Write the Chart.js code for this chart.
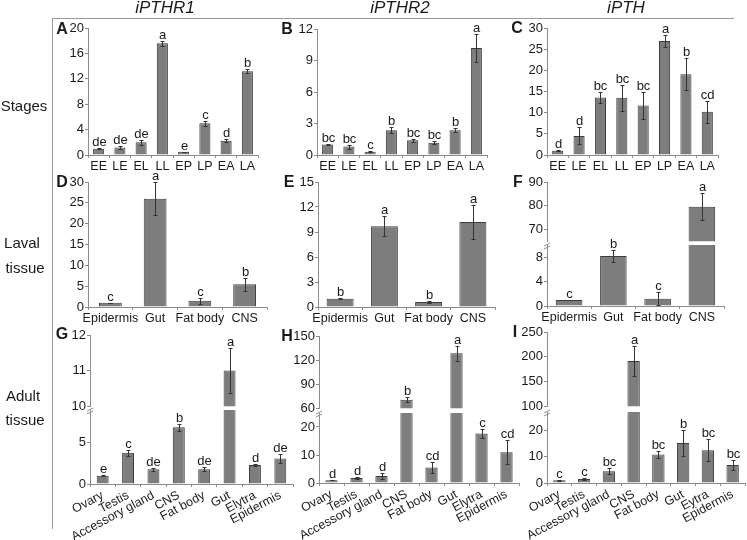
<!DOCTYPE html>
<html>
<head>
<meta charset="utf-8">
<script src="https://cdn.jsdelivr.net/npm/chart.js@4.4.1/dist/chart.umd.min.js"></script>
<style>
html, body { margin: 0; padding: 0; background: #fff; }
#fig { position: relative; width: 747px; height: 540px; overflow: hidden; font-family: "Liberation Sans", Arial, sans-serif; color: #1a1a1a; }
#fig canvas { position: absolute; }
.t { position: absolute; white-space: nowrap; line-height: 1; transform: translate(-50%, -50%); }
.title { font-size: 17px; font-style: italic; }
.row { font-size: 15px; }
.pl { font-size: 16px; font-weight: bold; }
.rule { position: absolute; background: #9a9a9a; }
</style>
</head>
<body>
<div id="fig">
  <div class="rule" style="left:52px;top:18px;width:682px;height:1px"></div>
  <div class="rule" style="left:52px;top:18px;width:1px;height:511px"></div>
</div>
<script>
// categories
const stageLabels = ['EE', 'LE', 'EL', 'LL', 'EP', 'LP', 'EA', 'LA'];
const larvalLabels = ['Epidermis', 'Gut', 'Fat body', 'CNS'];
const adultLabels = ['Ovary', 'Testis', 'Accessory gland', 'CNS', 'Fat body', 'Gut', 'Elytra', 'Epidermis'];
const adultLabelsI = ['Ovary', 'Testis', 'Accessory gland', 'CNS', 'Fat body', 'Gut', 'Eytra', 'Epidermis'];

// A - iPTHR1, stages
const aMean = [1.0, 1.2, 2.0, 17.6, 0.5, 5.0, 2.25, 13.2];
const aErr = [0.1, 0.2, 0.4, 0.4, 0.05, 0.4, 0.25, 0.3];
const aSig = ['de', 'de', 'de', 'a', 'e', 'c', 'd', 'b'];
const aTicks = [0, 4, 8, 12, 16, 20];

// B - iPTHR2, stages
const bMean = [1.0, 0.8, 0.3, 2.35, 1.4, 1.17, 2.35, 10.2];
const bErr = [0.05, 0.2, 0.05, 0.3, 0.15, 0.15, 0.2, 1.3];
const bSig = ['bc', 'bc', 'c', 'b', 'bc', 'bc', 'b', 'a'];
const bTicks = [0, 3, 6, 9, 12];

// C - iPTH, stages
const cMean = [1.0, 4.5, 13.6, 13.5, 11.7, 26.9, 19.1, 10.2];
const cErr = [0.1, 2.0, 1.4, 3.0, 3.2, 1.4, 3.8, 2.6];
const cSig = ['d', 'd', 'bc', 'bc', 'bc', 'a', 'b', 'cd'];
const cTicks = [0, 5, 10, 15, 20, 25, 30];

// D - iPTHR1, larval tissue
const dMean = [1.0, 26.0, 1.5, 5.45];
const dErr = [0.05, 4.0, 0.7, 1.6];
const dSig = ['c', 'a', 'c', 'b'];
const dTicks = [0, 5, 10, 15, 20, 25, 30];

// E - iPTHR2, larval tissue
const eMean = [1.0, 9.7, 0.6, 10.2];
const eErr = [0.05, 1.2, 0.1, 2.0];
const eSig = ['b', 'a', 'b', 'a'];
const eTicks = [0, 3, 6, 9, 12, 15];

// F - iPTH, larval tissue (broken axis)
const fMean = [1.0, 8.2, 1.2, 79.6];
const fErr = [0.05, 1.0, 1.1, 5.8];
const fSig = ['c', 'b', 'c', 'a'];
const fLowTicks = [0, 4, 8];
const fHighTicks = [70, 80, 90];
const fRange = [0, 10, 65, 90];

// G - iPTHR1, adult tissue (broken axis)
const gMean = [1.0, 3.8, 1.8, 6.9, 1.8, 11.0, 2.3, 3.1];
const gErr = [0.05, 0.35, 0.2, 0.4, 0.25, 0.63, 0.1, 0.6];
const gSig = ['e', 'c', 'de', 'b', 'de', 'a', 'd', 'de'];
const gLowTicks = [0, 5];
const gHighTicks = [10, 11, 12];
const gRange = [0, 9, 10, 12];

// H - iPTHR2, adult tissue (broken axis)
const hMean = [1.0, 1.8, 2.5, 70.4, 5.5, 128.4, 17.7, 11.0];
const hErr = [0.1, 0.3, 1.2, 3.0, 2.1, 9.0, 1.6, 4.3];
const hSig = ['d', 'd', 'd', 'b', 'cd', 'a', 'c', 'cd'];
const hLowTicks = [0, 10, 20];
const hHighTicks = [60, 90, 120, 150];
const hRange = [0, 25, 60, 150];

// I - iPTH, adult tissue (broken axis)
const iMean = [1.0, 1.5, 4.5, 191.5, 10.8, 15.2, 12.5, 6.8];
const iErr = [0.1, 0.4, 1.1, 31, 1.2, 5.0, 4.3, 2.0];
const iSig = ['c', 'c', 'bc', 'a', 'bc', 'b', 'bc', 'bc'];
const iLowTicks = [0, 10, 20];
const iHighTicks = [100, 150, 200, 250];
const iRange = [0, 27, 100, 250];

const FONT = '"Liberation Sans", Arial, sans-serif';
const AXIS = '#8c8c8c';
const INK = '#1a1a1a';
const YW = 44;
const fig = document.getElementById('fig');

// error bars, significance letters and the axis break mark
const barDecor = {
    id: 'barDecor',
    afterDatasetsDraw(chart, args, opts) {
        const ctx = chart.ctx;
        const y = chart.scales.y;
        const meta = chart.getDatasetMeta(0);
        ctx.save();
        ctx.strokeStyle = '#333';
        ctx.lineWidth = 1;
        ctx.fillStyle = INK;
        ctx.font = '13px ' + FONT;
        ctx.textAlign = 'center';
        ctx.textBaseline = 'alphabetic';
        opts.mean.forEach((m, i) => {
            if (m < y.min || m > y.max) return;
            const x = Math.round(meta.data[i].x) + 0.5;
            const hi = Math.round(y.getPixelForValue(m + opts.err[i])) + 0.5;
            const lo = Math.round(y.getPixelForValue(Math.max(m - opts.err[i], y.min))) + 0.5;
            ctx.beginPath();
            ctx.moveTo(x, lo);
            ctx.lineTo(x, hi);
            ctx.moveTo(x - 2, hi);
            ctx.lineTo(x + 2, hi);
            ctx.moveTo(x - 2, lo);
            ctx.lineTo(x + 2, lo);
            ctx.stroke();
            ctx.fillText(opts.sig[i], x, hi - 3);
        });
        if (opts.brk) {
            const a = chart.chartArea;
            ctx.strokeStyle = AXIS;
            ctx.beginPath();
            ctx.moveTo(a.left - 3, a.top + 1);
            ctx.lineTo(a.left + 3, a.top - 2);
            ctx.moveTo(a.left - 3, a.top + 4);
            ctx.lineTo(a.left + 3, a.top + 1);
            ctx.stroke();
        }
        ctx.restore();
    }
};

function section(cfg) {
    const pt = 16;
    const pb = cfg.xAxis ? 0 : 8;
    const xh = cfg.xAxis ? cfg.xh : 0;
    const cv = document.createElement('canvas');
    cv.width = (cfg.x1 - cfg.x0) + YW + 6;
    cv.height = (cfg.bottom - cfg.top) + pt + pb + xh;
    cv.style.left = (cfg.x0 - YW) + 'px';
    cv.style.top = (cfg.top - pt) + 'px';
    fig.appendChild(cv);

    new Chart(cv, {
        type: 'bar',
        data: {
            labels: cfg.labels,
            datasets: [{
                data: cfg.mean.map(v => v >= cfg.min ? v : null),
                backgroundColor: '#7d7d7d',
                borderColor: '#3c3c3c',
                borderWidth: 1,
                borderSkipped: 'start',
                barPercentage: cfg.bar,
                categoryPercentage: 1,
                clip: 0
            }]
        },
        options: {
            responsive: false,
            animation: false,
            layout: { padding: { left: 0, right: 6, top: pt, bottom: pb } },
            plugins: {
                legend: { display: false },
                tooltip: { enabled: false },
                barDecor: { mean: cfg.mean, err: cfg.err, sig: cfg.sig, brk: cfg.brk }
            },
            scales: {
                x: {
                    display: cfg.xAxis,
                    afterFit: s => { s.height = xh; },
                    grid: { drawOnChartArea: false, color: AXIS, tickLength: 3 },
                    border: { color: AXIS },
                    ticks: {
                        color: INK,
                        font: { family: FONT, size: 12.5 },
                        padding: 1,
                        autoSkip: false,
                        maxRotation: cfg.rot || 0,
                        minRotation: cfg.rot || 0
                    }
                },
                y: {
                    min: cfg.min,
                    max: cfg.max,
                    afterBuildTicks: s => { s.ticks = cfg.ticks.map(v => ({ value: v })); },
                    afterFit: s => { s.width = YW; },
                    grid: { drawOnChartArea: false, color: AXIS, tickLength: 3 },
                    border: { color: AXIS },
                    ticks: { color: INK, font: { family: FONT, size: 13 }, padding: 1 }
                }
            }
        },
        plugins: [barDecor]
    });
}

// plain panels
section({ x0: 88, x1: 258, top: 28, bottom: 155, min: 0, max: 20, ticks: aTicks, labels: stageLabels, mean: aMean, err: aErr, sig: aSig, bar: 0.52, xAxis: true, xh: 22 });
section({ x0: 317, x1: 487, top: 29, bottom: 155, min: 0, max: 12, ticks: bTicks, labels: stageLabels, mean: bMean, err: bErr, sig: bSig, bar: 0.52, xAxis: true, xh: 22 });
section({ x0: 547, x1: 718, top: 28, bottom: 155, min: 0, max: 30, ticks: cTicks, labels: stageLabels, mean: cMean, err: cErr, sig: cSig, bar: 0.52, xAxis: true, xh: 22 });
section({ x0: 88, x1: 267, top: 182, bottom: 307, min: 0, max: 30, ticks: dTicks, labels: larvalLabels, mean: dMean, err: dErr, sig: dSig, bar: 0.51, xAxis: true, xh: 22 });
section({ x0: 318, x1: 495, top: 182, bottom: 307, min: 0, max: 15, ticks: eTicks, labels: larvalLabels, mean: eMean, err: eErr, sig: eSig, bar: 0.61, xAxis: true, xh: 22 });

// broken-axis panels: lower and upper section each get a chart
section({ x0: 547, x1: 724, top: 245, bottom: 306, min: fRange[0], max: fRange[1], ticks: fLowTicks, labels: larvalLabels, mean: fMean, err: fErr, sig: fSig, bar: 0.6, xAxis: true, xh: 22, brk: true });
section({ x0: 547, x1: 724, top: 182, bottom: 242, min: fRange[2], max: fRange[3], ticks: fHighTicks, labels: larvalLabels, mean: fMean, err: fErr, sig: fSig, bar: 0.6, xAxis: false });

section({ x0: 90, x1: 293, top: 410, bottom: 484, min: gRange[0], max: gRange[1], ticks: gLowTicks, labels: adultLabels, mean: gMean, err: gErr, sig: gSig, bar: 0.47, xAxis: true, xh: 56, rot: 28, brk: true });
section({ x0: 90, x1: 293, top: 335, bottom: 407, min: gRange[2], max: gRange[3], ticks: gHighTicks, labels: adultLabels, mean: gMean, err: gErr, sig: gSig, bar: 0.47, xAxis: false });

section({ x0: 319, x1: 519, top: 413, bottom: 483, min: hRange[0], max: hRange[1], ticks: hLowTicks, labels: adultLabels, mean: hMean, err: hErr, sig: hSig, bar: 0.49, xAxis: true, xh: 57, rot: 28, brk: true });
section({ x0: 319, x1: 519, top: 336, bottom: 409, min: hRange[2], max: hRange[3], ticks: hHighTicks, labels: adultLabels, mean: hMean, err: hErr, sig: hSig, bar: 0.49, xAxis: false });

section({ x0: 547, x1: 745, top: 412, bottom: 483, min: iRange[0], max: iRange[1], ticks: iLowTicks, labels: adultLabelsI, mean: iMean, err: iErr, sig: iSig, bar: 0.5, xAxis: true, xh: 57, rot: 28, brk: true });
section({ x0: 547, x1: 745, top: 332, bottom: 407, min: iRange[2], max: iRange[3], ticks: iHighTicks, labels: adultLabelsI, mean: iMean, err: iErr, sig: iSig, bar: 0.5, xAxis: false });

// headings, row labels and panel letters
function text(str, x, y, cls) {
    const d = document.createElement('div');
    d.className = 't ' + cls;
    d.style.left = x + 'px';
    d.style.top = y + 'px';
    d.textContent = str;
    fig.appendChild(d);
}
text('iPTHR1', 165, 7, 'title');
text('iPTHR2', 400, 7, 'title');
text('iPTH', 626, 7, 'title');
text('Stages', 24, 105, 'row');
text('Laval', 22, 242, 'row');
text('tissue', 25, 267, 'row');
text('Adult', 23, 395, 'row');
text('tissue', 25, 419, 'row');
[['A', 62, 29], ['B', 287, 29], ['C', 517, 28], ['D', 62, 182], ['E', 289, 182],
 ['F', 518, 182], ['G', 62, 334], ['H', 287, 336], ['I', 515, 332]].forEach(p => text(p[0], p[1], p[2], 'pl'));
</script>
</body>
</html>
